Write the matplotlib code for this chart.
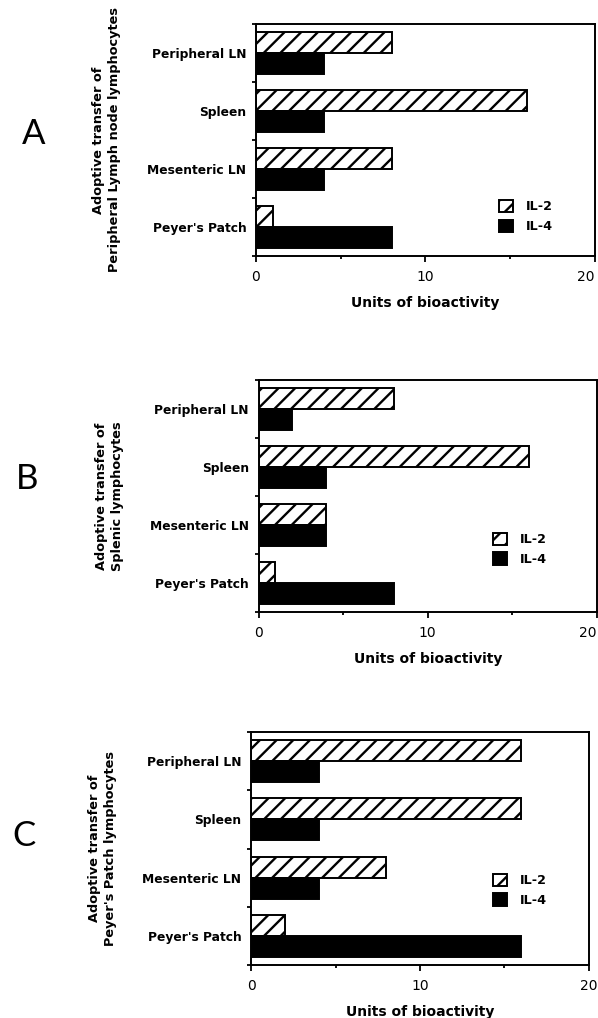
import numpy as np
import matplotlib.pyplot as plt
from matplotlib.ticker import FixedLocator

sites = ["Peripheral LN", "Spleen", "Mesenteric LN", "Peyer's Patch"]
panels = ["A", "B", "C"]
ylabels = ["Adoptive transfer of\nPeripheral Lymph node lymphocytes",
           "Adoptive transfer of\nSplenic lymphocytes",
           "Adoptive transfer of\nPeyer's Patch lymphocytes"]
il2 = [[8, 16, 8, 1],
       [8, 16, 4, 1],
       [16, 16, 8, 2]]
il4 = [[4, 4, 4, 8],
       [2, 4, 4, 8],
       [4, 4, 4, 16]]
xticks = [0, 10, 20]
xminor = [5, 15]

plt.rcParams['hatch.linewidth'] = 1.7
plt.rcParams['font.family'] = ['DejaVu Sans']

W, H = 598, 1018
fig = plt.figure(figsize=(W / 100, H / 100), dpi=100)

# axes boxes in pixels: left, top, right, bottom
boxes = [(256, 24, 595, 256), (258.5, 380, 597, 612), (251, 732, 589, 965)]
letter_pos = [(34, 134), (27, 479), (24, 836)]
legend_pos = [(0.698, 0.27), (0.675, 0.37), (0.698, 0.42)]

for i, (l, t, r, b) in enumerate(boxes):
    ax = fig.add_axes([l / W, 1 - b / H, (r - l) / W, (b - t) / H])
    y = np.arange(len(sites))
    h = 0.36
    ax.barh(y - h / 2, il2[i], height=h, color='white', edgecolor='black',
            hatch='//', linewidth=1.4, label='IL-2')
    ax.barh(y + h / 2, il4[i], height=h, color='black', edgecolor='black',
            linewidth=1.4, label='IL-4')
    ax.set_ylim(len(sites) - 0.5, -0.5)
    ax.set_xlim(0, 20)

    ax.set_yticks(y)
    ax.set_yticklabels(sites, fontsize=8.8, fontweight='bold')
    ax.yaxis.set_minor_locator(FixedLocator(np.arange(-0.5, len(sites), 1.0)))
    ax.tick_params(axis='y', which='major', length=0, pad=7)
    ax.tick_params(axis='y', which='minor', length=3, width=1.3, direction='out')

    ax.set_xticks(xticks)
    ax.xaxis.set_minor_locator(FixedLocator(xminor))
    ax.tick_params(axis='x', which='major', length=4, width=1.3, pad=6, labelsize=10)
    ax.tick_params(axis='x', which='minor', length=2.5, width=1.3)
    if i < 2:
        ax.get_xticklabels()[-1].set_horizontalalignment('right')
    for s in ax.spines.values():
        s.set_linewidth(1.4)

    ax.set_xlabel('Units of bioactivity', fontsize=10, fontweight='heavy', labelpad=9)
    ax.text(-0.44, 0.5, ylabels[i], transform=ax.transAxes, rotation=90,
            ha='center', va='center', multialignment='center',
            fontsize=9.3, fontweight='bold', linespacing=1.3)

    ax.legend(loc='upper left', bbox_to_anchor=legend_pos[i], frameon=False,
              prop={'size': 9.2, 'weight': 'bold'}, handlelength=1.1,
              handleheight=1.1, handletextpad=1.0, labelspacing=0.5, borderpad=0)

    fx, fy = letter_pos[i]
    fig.text(fx / W, 1 - fy / H, panels[i], fontsize=25, fontweight='normal',
             family=['Lato', 'DejaVu Sans'], ha='center', va='center')

fig.savefig('out.png', dpi=100)
